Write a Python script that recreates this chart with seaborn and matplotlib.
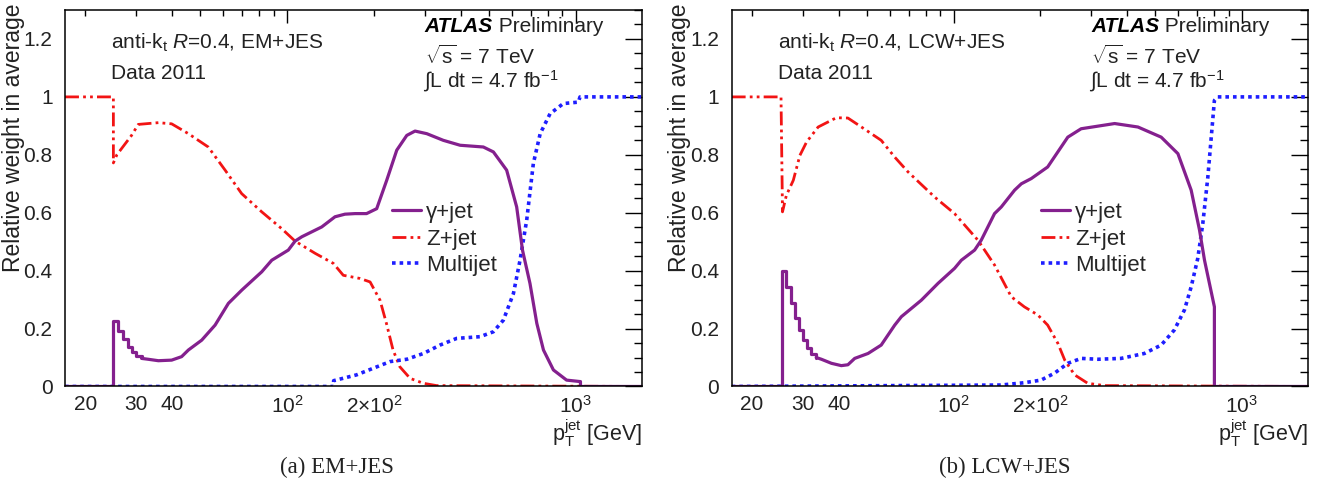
import pandas as pd
import seaborn as sns
import matplotlib.pyplot as plt
from matplotlib.ticker import FixedLocator, FuncFormatter
from matplotlib.lines import Line2D

# ---- data (pT in GeV, relative weight) ----
em_gamma_step_x = [17, 25, 26, 27.1, 28, 28.9, 30, 31.3]
em_gamma_step_y = [0, 0.227, 0.191, 0.163, 0.137, 0.120, 0.105, 0.097]
em_gamma_x = [31.3, 33, 35.8, 39.8, 43.1, 45.5, 50.6, 56.3, 62.6, 69.7, 81.7, 88.5, 101, 106.6,
              112.5, 131.9, 146.6, 158.7, 172, 188.6, 204.5, 221.5, 240, 260, 277.7, 305, 348,
              398, 479, 519, 577, 625, 655, 695, 734, 774, 838, 931, 1036, 1040, 1040, 1700]
em_gamma_y = [0.097, 0.094, 0.089, 0.091, 0.103, 0.126, 0.16, 0.212, 0.287, 0.333, 0.396, 0.436,
              0.471, 0.502, 0.517, 0.551, 0.586, 0.595, 0.597, 0.597, 0.614, 0.712, 0.816, 0.867,
              0.882, 0.873, 0.85, 0.833, 0.827, 0.81, 0.747, 0.62, 0.47, 0.356, 0.218, 0.126,
              0.057, 0.022, 0.017, 0.017, 0, 0]
em_z_x = [17, 25, 25, 25.7, 28.9, 30.5, 35.8, 39.8, 45.5, 53.3, 61, 69.6, 81.7, 95.8, 106.6, 125,
          144.7, 156.6, 179, 194, 210, 221, 233, 246, 267, 297, 330, 1700]
em_z_y = [1, 1, 0.772, 0.80, 0.867, 0.905, 0.911, 0.907, 0.873, 0.827, 0.747, 0.666, 0.603, 0.545,
          0.502, 0.46, 0.425, 0.384, 0.373, 0.361, 0.298, 0.218, 0.126, 0.068, 0.028, 0.011, 0.003, 0]
em_multi_x = [17, 145, 145, 174, 199, 227.6, 260, 297, 339, 387, 467, 519, 562, 609, 642, 677, 714,
              754, 816, 907, 1023, 1036, 1700]
em_multi_y = [0, 0, 0.02, 0.04, 0.063, 0.086, 0.094, 0.114, 0.143, 0.166, 0.172, 0.189, 0.229,
              0.321, 0.436, 0.574, 0.77, 0.873, 0.942, 0.977, 0.982, 1.0, 1.0]

lcw_gamma_step_x = [17, 25.3, 26.2, 27.2, 28.1, 29.1, 30.1, 31.1, 32.1, 33.4]
lcw_gamma_step_y = [0, 0.399, 0.342, 0.287, 0.237, 0.195, 0.16, 0.132, 0.112, 0.10]
lcw_gamma_x = [33.4, 34.8, 37.7, 40.8, 43, 45.4, 50.5, 56.1, 62.5, 65.9, 77.3, 88.3, 100.8, 106.4,
               118.3, 124.7, 138.7, 146.4, 162.8, 171.8, 186, 212, 249, 277, 362, 436, 525, 600,
               667, 713, 742, 803, 803, 1700]
lcw_gamma_y = [0.10, 0.094, 0.08, 0.072, 0.075, 0.097, 0.114, 0.143, 0.212, 0.241, 0.298, 0.356,
               0.408, 0.436, 0.471, 0.505, 0.597, 0.62, 0.678, 0.70, 0.718, 0.758, 0.861, 0.89,
               0.908, 0.896, 0.861, 0.804, 0.678, 0.54, 0.436, 0.275, 0, 0]
lcw_z_x = [17, 25.2, 25.5, 26.3, 27.8, 29.3, 30.9, 33.9, 39.2, 43, 47.9, 56.1, 62.5, 69.5, 86, 100.8,
           121.5, 138.6, 158.5, 176, 196, 212, 230, 243, 263, 292, 334, 1700]
lcw_z_y = [1, 1, 0.603, 0.66, 0.712, 0.798, 0.844, 0.896, 0.928, 0.927, 0.896, 0.85, 0.792, 0.741,
           0.654, 0.597, 0.505, 0.42, 0.31, 0.275, 0.247, 0.212, 0.149, 0.091, 0.04, 0.011, 0.003, 0]
lcw_multi_x = [17, 146, 176, 201, 224, 249, 277, 317, 381, 459, 525, 583, 632, 667, 703, 732, 762,
               803, 825, 1700]
lcw_multi_y = [0, 0.005, 0.013, 0.022, 0.046, 0.08, 0.097, 0.094, 0.097, 0.114, 0.143, 0.195,
               0.264, 0.344, 0.442, 0.563, 0.723, 0.988, 1.0, 1.0]

labels = ["\u03b3+jet", "Z+jet", "Multijet"]
xtick_values = [20, 30, 40, 100, 200, 1000]
xtick_labels = ["20", "30", "40", "$10^{2}$", "$2{\\times}10^{2}$", "$10^{3}$"]
ytick_values = [0, 0.2, 0.4, 0.6, 0.8, 1.0, 1.2]
ytick_labels = ["0", "0.2", "0.4", "0.6", "0.8", "1", "1.2"]
panel_tags = ["EM+JES", "LCW+JES"]
captions = ["(a) EM+JES", "(b) LCW+JES"]

sns.set_theme(style="white")
plt.rcParams["font.family"] = ["Liberation Sans", "DejaVu Sans"]
plt.rcParams["mathtext.fontset"] = "custom"
plt.rcParams["mathtext.rm"] = "Liberation Sans"
plt.rcParams["mathtext.it"] = "Liberation Sans:italic"
plt.rcParams["mathtext.bf"] = "Liberation Sans:bold"

PURPLE = "#84208e"
RED = "#f21414"
BLUE = "#1e1eff"
INK = "#222222"
FS = 16

fig = plt.figure(figsize=(13.17, 4.96), dpi=100)
ax_l = fig.add_axes([0.0494, 0.2208, 0.4381, 0.759])
ax_r = fig.add_axes([0.5556, 0.2208, 0.4378, 0.759])

panels = [
    (ax_l, em_gamma_step_x, em_gamma_step_y, em_gamma_x, em_gamma_y, em_z_x, em_z_y, em_multi_x, em_multi_y),
    (ax_r, lcw_gamma_step_x, lcw_gamma_step_y, lcw_gamma_x, lcw_gamma_y, lcw_z_x, lcw_z_y, lcw_multi_x, lcw_multi_y),
]

z_dash = (0, (5, 1.5, 1, 1.5, 1, 1.5))
m_dash = (0, (1, 1.1))

for i, (ax, gsx, gsy, gx, gy, zx, zy, mx, my) in enumerate(panels):
    sns.lineplot(x=zx, y=zy, ax=ax, color=RED, lw=2.0, linestyle=z_dash, sort=False, estimator=None)
    sns.lineplot(x=mx, y=my, ax=ax, color=BLUE, lw=2.6, linestyle=m_dash, sort=False, estimator=None)
    sns.lineplot(x=gsx, y=gsy, ax=ax, color=PURPLE, lw=2.3, drawstyle="steps-post", sort=False, estimator=None)
    sns.lineplot(x=gx, y=gy, ax=ax, color=PURPLE, lw=2.3, sort=False, estimator=None)

    ax.set_xscale("log")
    ax.set_xlim(17, 1700)
    ax.set_ylim(0, 1.3)

    # ROOT-like ticks: long at decades, short otherwise, all inward on four sides
    ax.xaxis.set_major_locator(FixedLocator([100, 1000]))
    minors = [v * d for d in (10, 100) for v in range(2, 10)]
    ax.xaxis.set_minor_locator(FixedLocator(minors))
    lab = dict(zip(xtick_values, xtick_labels))
    fmt = FuncFormatter(lambda v, p: lab.get(int(round(v)), ""))
    ax.xaxis.set_major_formatter(fmt)
    ax.xaxis.set_minor_formatter(fmt)
    ax.yaxis.set_major_locator(FixedLocator(ytick_values))
    ax.yaxis.set_minor_locator(FixedLocator([k * 0.05 for k in range(27)]))
    ax.set_yticklabels(ytick_labels)
    ax.tick_params(which="both", direction="in", top=True, right=True, color="black",
                   labelsize=15, labelcolor=INK, width=1.0)
    ax.tick_params(axis="x", which="major", length=9, pad=6)
    ax.tick_params(axis="x", which="minor", length=4.5, pad=6, labelsize=15)
    ax.tick_params(axis="y", which="major", length=12, pad=9)
    ax.tick_params(axis="y", which="minor", length=6)
    for s in ax.spines.values():
        s.set_visible(True)
        s.set_color("black")
        s.set_linewidth(1.1)

    ax.set_xlabel("")
    ax.set_ylabel("")
    ax.text(-0.09, 1.017, "Relative weight in average", transform=ax.transAxes, rotation=90,
            ha="center", va="top", fontsize=16.5, color=INK)
    ax.text(1.0, -0.146, "$\\mathregular{p_{T}^{jet}}$ [GeV]", transform=ax.transAxes,
            ha="right", va="baseline", fontsize=15.5, color=INK)

    ax.text(0.08, 0.912, "anti-k$_{\\mathregular{t}}$ $\\mathit{R}$=0.4, " + panel_tags[i],
            transform=ax.transAxes, ha="left", va="center", fontsize=15, color=INK)
    ax.text(0.08, 0.832, "Data 2011", transform=ax.transAxes, ha="left", va="center",
            fontsize=15, color=INK)
    atl = ax.text(0.623, 0.955, "ATLAS", transform=ax.transAxes, ha="left", va="center",
                  fontsize=15, fontweight="bold", fontstyle="italic", color="black")
    ax.annotate(" Preliminary", xy=(1, 0.5), xycoords=atl, ha="left", va="center",
                fontsize=15, color=INK)
    ax.text(0.623, 0.877, "$\\sqrt{\\mathregular{s}}$ = 7 TeV", transform=ax.transAxes,
            ha="left", va="center", fontsize=15, color=INK)
    ax.text(0.62, 0.81, "$\\int$L dt = 4.7 fb$^{\\mathregular{-1}}$", transform=ax.transAxes,
            ha="left", va="center", fontsize=15, color=INK)

    handles = [Line2D([], [], color=PURPLE, lw=2.3),
               Line2D([], [], color=RED, lw=2.0, linestyle=z_dash),
               Line2D([], [], color=BLUE, lw=2.6, linestyle=m_dash)]
    ax.legend(handles, labels, loc="upper left", bbox_to_anchor=(0.566 - 0.03 * i, 0.49),
              frameon=False, fontsize=FS, handlelength=1.3, handletextpad=0.25,
              labelspacing=0.25, borderpad=0, borderaxespad=0)

    fig.text([0.256, 0.763][i], 0.058, captions[i], ha="center", va="center",
             fontsize=16.5, family="Liberation Serif", color=INK)

fig.savefig("out.png", dpi=100)
